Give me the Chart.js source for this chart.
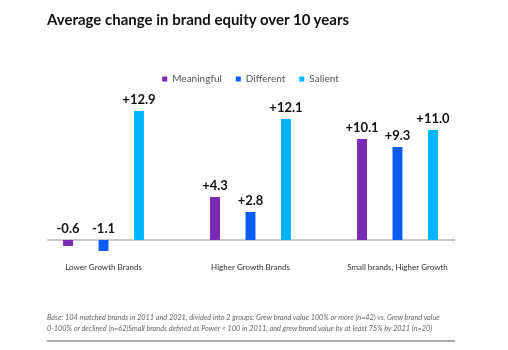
<!DOCTYPE html>
<html>
<head>
<meta charset="utf-8">
<script src="https://cdn.jsdelivr.net/npm/chart.js@4"></script>
<style>
  html, body { margin: 0; padding: 0; background: #fff; }
  #wrap { position: relative; width: 508px; height: 350px; overflow: hidden; }
  #title { position: absolute; left: 47px; top: 10px; font-family: Lato, sans-serif; font-weight: 700; font-size: 15px; color: #111; white-space: nowrap; }
  #chartBox { position: absolute; left: 0; top: 0; width: 508px; height: 350px; }
  #note { position: absolute; left: 47px; top: 312px; width: 440px; font-family: Lato, sans-serif; font-style: italic; font-size: 7.3px; line-height: 11px; color: #666; white-space: nowrap; }
  #rule { position: absolute; left: 47px; top: 340px; width: 408px; height: 2px; background: #aaa; }
</style>
</head>
<body>
<div id="wrap">
  <div id="chartBox"><canvas id="c"></canvas></div>
  <div id="title">Average change in brand equity over 10 years</div>
  <div id="note">Base: 104 matched brands in 2011 and 2021, divided into 2 groups: Grew brand value 100% or more (n=42) vs. Grew brand value<br>0-100% or declined (n=62)Small brands defined as Power &lt; 100 in 2011, and grew brand value by at least 75% by 2021 (n=20)</div>
  <div id="rule"></div>
</div>
<script>
const categories = ["Lower Growth Brands", "Higher Growth Brands", "Small brands, Higher Growth"];
const seriesNames = ["Meaningful", "Different", "Salient"];
const meaningful = [-0.6, 4.3, 10.1];
const different = [-1.1, 2.8, 9.3];
const salient = [12.9, 12.1, 11.0];
const colors = ["#7B2AB8", "#0A5CFF", "#00B4FF"];

const valueLabels = {
  id: 'valueLabels',
  afterDatasetsDraw(chart) {
    const ctx = chart.ctx;
    ctx.save();
    ctx.font = "700 13px Lato, sans-serif";
    ctx.fillStyle = "#111";
    ctx.textAlign = "center";
    ctx.textBaseline = "bottom";
    chart.data.datasets.forEach((ds, i) => {
      chart.getDatasetMeta(i).data.forEach((bar, j) => {
        const v = ds.data[j];
        const txt = (v > 0 ? "+" : "") + v.toFixed(1);
        const y = Math.min(bar.y, bar.base) - 5;
        ctx.fillText(txt, bar.x, y);
      });
    });
    ctx.restore();
  }
};

const zeroLine = {
  id: 'zeroLine',
  beforeDatasetsDraw(chart) {
    const ctx = chart.ctx;
    const y = chart.scales.y.getPixelForValue(0);
    const a = chart.chartArea;
    ctx.save();
    ctx.strokeStyle = "#b5b5b5";
    ctx.lineWidth = 1.5;
    ctx.beginPath();
    ctx.moveTo(a.left + 17, y);
    ctx.lineTo(a.right - 16, y);
    ctx.stroke();
    ctx.restore();
  }
};

new Chart(document.getElementById('c'), {
  type: 'bar',
  data: {
    labels: categories,
    datasets: [
      { label: seriesNames[0], data: meaningful, backgroundColor: colors[0] },
      { label: seriesNames[1], data: different, backgroundColor: colors[1] },
      { label: seriesNames[2], data: salient, backgroundColor: colors[2] }
    ]
  },
  options: {
    responsive: true,
    maintainAspectRatio: false,
    animation: false,
    layout: { padding: { left: 30, right: 37, top: 60, bottom: 78 } },
    datasets: { bar: { categoryPercentage: 0.724, barPercentage: 0.28 } },
    plugins: {
      legend: {
        position: 'top',
        labels: {
          font: { family: "Lato, sans-serif", size: 10 },
          color: "#555",
          boxWidth: 5,
          boxHeight: 5,
          padding: 14
        }
      },
      tooltip: { enabled: false },
      title: { display: false }
    },
    scales: {
      x: {
        grid: { display: false },
        border: { display: false },
        ticks: { font: { family: "Lato, sans-serif", size: 8 }, color: "#333", padding: 0 }
      },
      y: {
        display: false,
        min: -1.45,
        max: 14.6
      }
    }
  },
  plugins: [valueLabels, zeroLine]
});
</script>
</body>
</html>
